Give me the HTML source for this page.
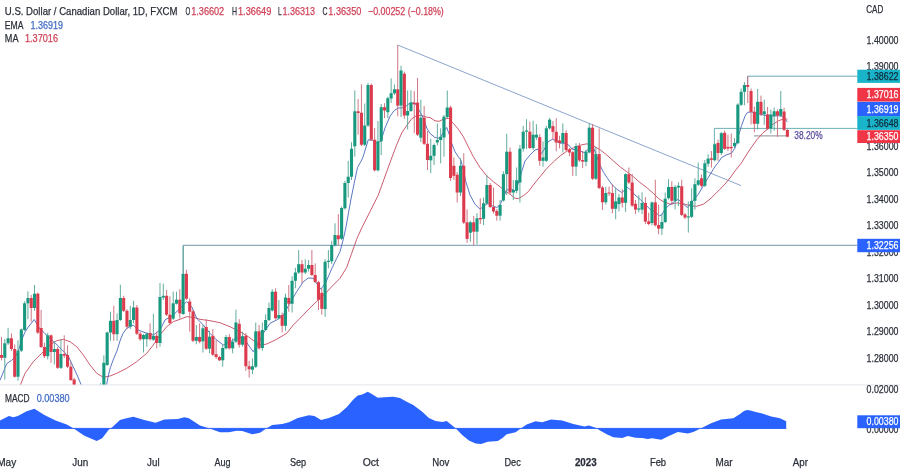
<!DOCTYPE html>
<html lang="en"><head><meta charset="utf-8"><title>USDCAD 1D</title>
<style>html,body{margin:0;padding:0;background:#fff;}body{width:900px;height:470px;overflow:hidden;position:relative;font-family:"Liberation Sans", Arial, sans-serif;}svg{position:absolute;left:0;top:0;display:block;will-change:transform;}text{font-family:"Liberation Sans", Arial, sans-serif;}</style>
</head><body>
<svg width="900" height="470" viewBox="0 0 900 470">
<defs><clipPath id="pane"><rect x="0" y="0" width="857" height="384.5"/></clipPath></defs>
<rect x="0" y="0" width="900" height="470" fill="#ffffff"/>
<line x1="0" y1="384.9" x2="900" y2="384.9" stroke="#e3e5ea" stroke-width="1"/>
<g fill="none" stroke-width="1">
<path d="M183.3 273.8 V245.3 H857.3" stroke="#4f7c9a" stroke-width="0.8"/>
<path d="M747.6 85 V76.2 H857.3" stroke="#3f9299" stroke-width="0.8"/>
<path d="M714.4 144 V128.4 H857.3" stroke="#4a9da3" stroke-width="0.8"/>
<path d="M397.7 45 L741 185.6" stroke="#6485ba" stroke-width="0.75"/>
<path d="M754 135.9 H786.2" stroke="#a3a5ad" stroke-width="1.4"/>
</g>
<g clip-path="url(#pane)">
<path d="M20.0 386.0 L25.0 373.3 L33.3 361.7 L41.7 353.3 L50.0 345.0 L56.7 340.7 L63.3 339.3 L70.0 341.7 L76.7 346.7 L83.3 355.0 L90.0 365.0 L96.7 373.3 L103.3 377.3 L110.0 376.0 L116.7 373.3 L126.7 368.3 L136.7 361.7 L146.7 353.3 L153.3 345.0 L160.0 335.0 L166.7 326.7 L173.3 321.7 L180.0 319.3 L186.7 316.7 L193.3 317.3 L200.0 319.3 L210.0 320.7 L220.0 322.7 L230.0 326.7 L240.0 331.7 L248.3 336.7 L255.0 341.7 L261.7 345.0 L266.7 344.0 L276.7 339.3 L286.7 333.3 L293.3 325.0 L300.0 318.3 L307.0 311.0 L315.0 303.0 L325.8 293.0 L331.7 286.7 L340.0 278.3 L346.7 267.5 L351.7 253.3 L356.7 239.2 L361.7 228.0 L370.0 211.7 L378.3 195.0 L386.7 171.7 L391.7 158.0 L396.7 144.7 L401.7 133.0 L406.7 125.5 L411.7 118.8 L416.7 115.5 L421.7 115.5 L426.7 117.2 L430.0 117.5 L435.0 120.8 L439.2 121.3 L443.3 119.2 L448.3 118.3 L453.3 123.3 L458.3 129.2 L463.3 136.7 L468.3 146.7 L473.3 156.7 L480.0 167.5 L486.7 175.8 L493.3 181.7 L500.0 186.7 L505.0 190.8 L510.0 194.2 L515.0 198.3 L518.3 198.7 L523.3 195.8 L528.3 191.7 L533.3 185.0 L538.3 178.8 L546.7 168.6 L553.4 161.9 L560.1 155.9 L566.8 151.2 L573.5 147.8 L580.2 145.2 L586.9 143.8 L593.6 146.0 L600.3 149.9 L607.0 155.2 L613.7 161.2 L620.4 167.0 L626.7 171.7 L633.3 176.7 L640.0 182.5 L646.7 187.5 L653.3 193.3 L658.3 198.3 L663.3 201.7 L670.0 204.2 L676.7 203.0 L683.3 203.7 L690.0 205.8 L696.7 206.3 L703.3 204.2 L710.0 199.2 L715.0 194.2 L720.0 189.2 L725.0 184.0 L730.0 178.0 L735.0 171.0 L741.6 162.7 L746.3 155.0 L751.7 146.9 L757.0 139.5 L762.4 133.5 L767.7 128.8 L773.1 124.1 L778.5 120.8 L783.8 118.8 L787.4 119.1 " fill="none" stroke="#c44a5d" stroke-width="0.95" stroke-opacity="0.95" stroke-linejoin="round"/>
<path d="M0.0 380.3 L6.7 363.7 L11.7 360.3 L15.0 357.0 L18.3 351.0 L21.7 340.0 L25.0 332.0 L28.3 327.0 L34.2 319.5 L39.2 327.8 L45.0 333.7 L53.3 341.2 L61.7 349.5 L68.3 356.2 L73.3 367.0 L77.5 376.0 L81.7 386.0 M106.4 386.0 L108.1 376.5 L110.3 367.7 L113.6 358.8 L116.9 351.1 L120.3 340.0 L123.0 333.5 L126.7 328.3 L133.3 325.0 L138.3 330.0 L145.0 332.7 L153.3 335.0 L160.0 330.0 L165.0 320.0 L173.3 315.0 L180.0 308.3 L186.7 301.7 L191.7 306.7 L196.7 318.3 L203.3 325.0 L210.0 333.3 L216.7 340.0 L223.3 345.0 L230.0 341.7 L236.7 338.3 L243.3 336.7 L248.3 345.0 L253.3 351.7 L258.3 343.3 L263.3 333.3 L270.0 323.3 L276.7 320.0 L283.3 315.0 L290.0 303.0 L296.7 291.7 L303.3 281.7 L308.3 278.0 L313.3 278.3 L318.3 285.8 L320.8 289.2 L325.8 282.5 L331.7 268.7 L336.7 258.3 L340.0 251.7 L343.3 239.2 L345.8 228.0 L350.8 200.0 L354.2 183.3 L357.5 167.5 L361.7 160.0 L363.3 156.0 L368.3 139.7 L372.5 140.5 L376.7 143.0 L380.8 141.3 L385.0 128.0 L390.0 116.3 L394.2 110.5 L398.3 108.0 L403.3 107.7 L406.7 105.5 L410.0 103.0 L415.0 103.0 L419.2 110.5 L423.3 118.0 L426.7 128.0 L430.0 133.5 L435.0 137.5 L440.0 138.3 L444.2 130.8 L446.7 127.5 L449.2 134.2 L451.7 143.3 L455.0 151.7 L458.3 156.7 L460.8 160.0 L463.3 169.2 L465.8 181.7 L470.0 195.0 L475.0 204.2 L480.0 209.2 L483.3 206.7 L487.5 203.3 L492.5 205.8 L496.7 207.5 L500.0 205.0 L503.3 197.5 L506.7 190.0 L511.7 189.2 L515.0 190.8 L518.3 183.3 L521.7 171.7 L525.0 161.0 L530.0 155.0 L535.0 150.0 L538.3 149.2 L540.0 155.2 L544.0 149.9 L548.0 141.8 L552.7 139.1 L556.1 141.1 L560.1 143.2 L565.5 143.4 L568.8 145.2 L572.2 149.2 L576.2 150.1 L580.2 151.2 L584.2 152.5 L586.9 150.5 L589.6 148.5 L593.0 146.5 L596.3 155.2 L600.3 165.9 L603.7 172.6 L607.5 178.3 L611.7 184.2 L616.7 189.2 L621.7 192.5 L625.0 190.0 L627.5 187.5 L630.8 190.0 L635.0 195.0 L640.0 199.2 L645.0 204.2 L650.0 209.2 L655.0 211.7 L659.2 215.8 L661.7 215.0 L665.0 209.2 L668.3 205.8 L673.3 202.5 L678.3 199.2 L683.3 204.2 L687.5 207.5 L690.8 203.3 L695.0 198.3 L698.3 194.2 L703.3 185.8 L708.3 177.5 L713.3 169.2 L716.7 164.2 L718.2 162.7 L721.5 157.6 L726.2 155.0 L731.6 153.0 L734.9 148.3 L738.3 136.2 L741.6 125.5 L745.0 116.1 L747.6 112.3 L751.7 112.0 L757.0 113.4 L765.0 115.4 L773.0 116.0 L781.0 115.8 L785.8 120.0 L787.4 122.0 " fill="none" stroke="#4868bc" stroke-width="0.95" stroke-opacity="0.95" stroke-linejoin="round"/>
<g stroke-width="0.95"><line x1="1.50" y1="337.0" x2="1.50" y2="360.3" stroke="#cc6f7c"/><line x1="4.80" y1="339.0" x2="4.80" y2="379.5" stroke="#5aa89a"/><line x1="8.10" y1="327.8" x2="8.10" y2="345.0" stroke="#5aa89a"/><line x1="11.41" y1="333.3" x2="11.41" y2="351.0" stroke="#cc6f7c"/><line x1="14.71" y1="344.5" x2="14.71" y2="377.5" stroke="#cc6f7c"/><line x1="18.01" y1="340.3" x2="18.01" y2="380.7" stroke="#5aa89a"/><line x1="21.31" y1="328.5" x2="21.31" y2="352.0" stroke="#5aa89a"/><line x1="24.61" y1="301.3" x2="24.61" y2="331.0" stroke="#5aa89a"/><line x1="27.92" y1="291.3" x2="27.92" y2="319.2" stroke="#5aa89a"/><line x1="31.22" y1="295.0" x2="31.22" y2="321.7" stroke="#cc6f7c"/><line x1="34.52" y1="285.0" x2="34.52" y2="310.8" stroke="#5aa89a"/><line x1="37.82" y1="292.5" x2="37.82" y2="334.0" stroke="#cc6f7c"/><line x1="41.12" y1="310.0" x2="41.12" y2="348.0" stroke="#cc6f7c"/><line x1="44.43" y1="342.8" x2="44.43" y2="358.0" stroke="#cc6f7c"/><line x1="47.73" y1="332.8" x2="47.73" y2="359.5" stroke="#5aa89a"/><line x1="51.03" y1="334.5" x2="51.03" y2="362.8" stroke="#cc6f7c"/><line x1="54.33" y1="341.2" x2="54.33" y2="364.5" stroke="#5aa89a"/><line x1="57.63" y1="347.0" x2="57.63" y2="369.0" stroke="#cc6f7c"/><line x1="60.94" y1="339.5" x2="60.94" y2="369.0" stroke="#5aa89a"/><line x1="64.24" y1="335.3" x2="64.24" y2="358.0" stroke="#cc6f7c"/><line x1="67.54" y1="345.3" x2="67.54" y2="368.0" stroke="#cc6f7c"/><line x1="70.84" y1="362.0" x2="70.84" y2="381.0" stroke="#cc6f7c"/><line x1="74.14" y1="377.8" x2="74.14" y2="394.0" stroke="#cc6f7c"/><line x1="77.45" y1="390.0" x2="77.45" y2="400.0" stroke="#cc6f7c"/><line x1="100.56" y1="383.3" x2="100.56" y2="398.0" stroke="#5aa89a"/><line x1="103.86" y1="355.3" x2="103.86" y2="395.0" stroke="#5aa89a"/><line x1="107.16" y1="331.7" x2="107.16" y2="366.0" stroke="#5aa89a"/><line x1="110.47" y1="311.7" x2="110.47" y2="340.8" stroke="#5aa89a"/><line x1="113.77" y1="305.8" x2="113.77" y2="340.8" stroke="#cc6f7c"/><line x1="117.07" y1="313.3" x2="117.07" y2="340.8" stroke="#5aa89a"/><line x1="120.37" y1="284.7" x2="120.37" y2="321.0" stroke="#5aa89a"/><line x1="123.67" y1="295.8" x2="123.67" y2="312.0" stroke="#cc6f7c"/><line x1="126.98" y1="309.2" x2="126.98" y2="329.2" stroke="#cc6f7c"/><line x1="130.28" y1="305.8" x2="130.28" y2="329.0" stroke="#5aa89a"/><line x1="133.58" y1="300.8" x2="133.58" y2="323.3" stroke="#5aa89a"/><line x1="136.88" y1="305.0" x2="136.88" y2="335.0" stroke="#cc6f7c"/><line x1="140.18" y1="331.7" x2="140.18" y2="340.8" stroke="#cc6f7c"/><line x1="143.49" y1="334.0" x2="143.49" y2="352.5" stroke="#5aa89a"/><line x1="146.79" y1="332.5" x2="146.79" y2="346.7" stroke="#5aa89a"/><line x1="150.09" y1="323.3" x2="150.09" y2="340.5" stroke="#cc6f7c"/><line x1="153.39" y1="313.8" x2="153.39" y2="341.0" stroke="#5aa89a"/><line x1="156.69" y1="331.7" x2="156.69" y2="348.3" stroke="#cc6f7c"/><line x1="160.00" y1="283.0" x2="160.00" y2="346.7" stroke="#5aa89a"/><line x1="163.30" y1="283.7" x2="163.30" y2="300.0" stroke="#5aa89a"/><line x1="166.60" y1="290.0" x2="166.60" y2="316.0" stroke="#cc6f7c"/><line x1="169.90" y1="296.3" x2="169.90" y2="324.0" stroke="#cc6f7c"/><line x1="173.20" y1="291.7" x2="173.20" y2="320.0" stroke="#5aa89a"/><line x1="176.51" y1="291.7" x2="176.51" y2="304.5" stroke="#5aa89a"/><line x1="179.81" y1="289.2" x2="179.81" y2="318.3" stroke="#cc6f7c"/><line x1="183.11" y1="245.5" x2="183.11" y2="315.0" stroke="#5aa89a"/><line x1="186.41" y1="269.7" x2="186.41" y2="300.0" stroke="#cc6f7c"/><line x1="189.71" y1="298.3" x2="189.71" y2="331.7" stroke="#cc6f7c"/><line x1="193.02" y1="310.0" x2="193.02" y2="342.0" stroke="#cc6f7c"/><line x1="196.32" y1="325.0" x2="196.32" y2="344.2" stroke="#5aa89a"/><line x1="199.62" y1="323.3" x2="199.62" y2="343.3" stroke="#cc6f7c"/><line x1="202.92" y1="325.0" x2="202.92" y2="352.5" stroke="#5aa89a"/><line x1="206.22" y1="319.2" x2="206.22" y2="350.0" stroke="#cc6f7c"/><line x1="209.53" y1="330.8" x2="209.53" y2="353.3" stroke="#5aa89a"/><line x1="212.83" y1="329.2" x2="212.83" y2="356.0" stroke="#cc6f7c"/><line x1="216.13" y1="340.0" x2="216.13" y2="359.0" stroke="#cc6f7c"/><line x1="219.43" y1="355.8" x2="219.43" y2="361.0" stroke="#cc6f7c"/><line x1="222.73" y1="344.2" x2="222.73" y2="366.7" stroke="#5aa89a"/><line x1="226.04" y1="335.0" x2="226.04" y2="349.5" stroke="#5aa89a"/><line x1="229.34" y1="334.2" x2="229.34" y2="349.5" stroke="#cc6f7c"/><line x1="232.64" y1="338.3" x2="232.64" y2="353.3" stroke="#5aa89a"/><line x1="235.94" y1="309.7" x2="235.94" y2="343.0" stroke="#5aa89a"/><line x1="239.24" y1="319.2" x2="239.24" y2="347.5" stroke="#cc6f7c"/><line x1="242.55" y1="331.7" x2="242.55" y2="346.7" stroke="#5aa89a"/><line x1="245.85" y1="333.3" x2="245.85" y2="370.8" stroke="#cc6f7c"/><line x1="249.15" y1="360.8" x2="249.15" y2="377.5" stroke="#cc6f7c"/><line x1="252.45" y1="358.3" x2="252.45" y2="374.2" stroke="#5aa89a"/><line x1="255.75" y1="322.5" x2="255.75" y2="368.0" stroke="#5aa89a"/><line x1="259.06" y1="325.0" x2="259.06" y2="349.5" stroke="#cc6f7c"/><line x1="262.36" y1="322.5" x2="262.36" y2="350.8" stroke="#5aa89a"/><line x1="265.66" y1="314.2" x2="265.66" y2="331.0" stroke="#5aa89a"/><line x1="268.96" y1="302.5" x2="268.96" y2="321.0" stroke="#5aa89a"/><line x1="272.26" y1="289.2" x2="272.26" y2="311.5" stroke="#5aa89a"/><line x1="275.57" y1="288.3" x2="275.57" y2="319.5" stroke="#cc6f7c"/><line x1="278.87" y1="300.0" x2="278.87" y2="319.5" stroke="#5aa89a"/><line x1="282.17" y1="312.5" x2="282.17" y2="332.5" stroke="#cc6f7c"/><line x1="285.47" y1="293.7" x2="285.47" y2="330.8" stroke="#5aa89a"/><line x1="288.77" y1="285.0" x2="288.77" y2="311.7" stroke="#cc6f7c"/><line x1="292.08" y1="276.3" x2="292.08" y2="312.5" stroke="#5aa89a"/><line x1="295.38" y1="267.8" x2="295.38" y2="288.3" stroke="#5aa89a"/><line x1="298.68" y1="250.0" x2="298.68" y2="274.0" stroke="#5aa89a"/><line x1="301.98" y1="260.0" x2="301.98" y2="283.3" stroke="#cc6f7c"/><line x1="305.28" y1="259.2" x2="305.28" y2="274.0" stroke="#5aa89a"/><line x1="308.59" y1="260.0" x2="308.59" y2="271.7" stroke="#5aa89a"/><line x1="311.89" y1="250.0" x2="311.89" y2="276.0" stroke="#cc6f7c"/><line x1="315.19" y1="263.3" x2="315.19" y2="283.0" stroke="#cc6f7c"/><line x1="318.49" y1="280.8" x2="318.49" y2="309.9" stroke="#cc6f7c"/><line x1="321.79" y1="288.3" x2="321.79" y2="314.7" stroke="#cc6f7c"/><line x1="325.10" y1="259.2" x2="325.10" y2="316.8" stroke="#5aa89a"/><line x1="328.40" y1="250.0" x2="328.40" y2="268.3" stroke="#5aa89a"/><line x1="331.70" y1="240.8" x2="331.70" y2="264.2" stroke="#5aa89a"/><line x1="335.00" y1="223.3" x2="335.00" y2="246.5" stroke="#5aa89a"/><line x1="338.30" y1="214.2" x2="338.30" y2="245.0" stroke="#cc6f7c"/><line x1="341.61" y1="206.5" x2="341.61" y2="240.0" stroke="#5aa89a"/><line x1="344.91" y1="180.8" x2="344.91" y2="209.5" stroke="#5aa89a"/><line x1="348.21" y1="160.8" x2="348.21" y2="197.5" stroke="#5aa89a"/><line x1="351.51" y1="142.2" x2="351.51" y2="180.0" stroke="#5aa89a"/><line x1="354.81" y1="90.4" x2="354.81" y2="156.7" stroke="#5aa89a"/><line x1="358.12" y1="99.0" x2="358.12" y2="134.7" stroke="#cc6f7c"/><line x1="361.42" y1="84.3" x2="361.42" y2="146.0" stroke="#cc6f7c"/><line x1="364.72" y1="103.5" x2="364.72" y2="146.0" stroke="#5aa89a"/><line x1="368.02" y1="82.8" x2="368.02" y2="127.0" stroke="#5aa89a"/><line x1="371.32" y1="83.5" x2="371.32" y2="141.0" stroke="#cc6f7c"/><line x1="374.63" y1="128.0" x2="374.63" y2="171.5" stroke="#cc6f7c"/><line x1="377.93" y1="121.0" x2="377.93" y2="171.5" stroke="#5aa89a"/><line x1="381.23" y1="104.0" x2="381.23" y2="155.0" stroke="#5aa89a"/><line x1="384.53" y1="103.2" x2="384.53" y2="118.0" stroke="#cc6f7c"/><line x1="387.83" y1="96.7" x2="387.83" y2="118.0" stroke="#5aa89a"/><line x1="391.14" y1="78.3" x2="391.14" y2="103.0" stroke="#5aa89a"/><line x1="394.44" y1="84.4" x2="394.44" y2="95.0" stroke="#5aa89a"/><line x1="397.74" y1="45.0" x2="397.74" y2="116.3" stroke="#cc6f7c"/><line x1="401.04" y1="65.8" x2="401.04" y2="117.0" stroke="#5aa89a"/><line x1="404.34" y1="71.7" x2="404.34" y2="118.8" stroke="#cc6f7c"/><line x1="407.65" y1="90.4" x2="407.65" y2="129.7" stroke="#5aa89a"/><line x1="410.95" y1="90.2" x2="410.95" y2="112.0" stroke="#5aa89a"/><line x1="414.25" y1="91.0" x2="414.25" y2="133.0" stroke="#cc6f7c"/><line x1="417.55" y1="78.0" x2="417.55" y2="136.0" stroke="#cc6f7c"/><line x1="420.85" y1="99.7" x2="420.85" y2="142.2" stroke="#5aa89a"/><line x1="424.16" y1="106.0" x2="424.16" y2="145.0" stroke="#cc6f7c"/><line x1="427.46" y1="131.0" x2="427.46" y2="170.0" stroke="#cc6f7c"/><line x1="430.76" y1="138.8" x2="430.76" y2="173.3" stroke="#5aa89a"/><line x1="434.06" y1="143.5" x2="434.06" y2="165.0" stroke="#5aa89a"/><line x1="437.36" y1="123.5" x2="437.36" y2="145.3" stroke="#5aa89a"/><line x1="440.67" y1="128.3" x2="440.67" y2="163.3" stroke="#5aa89a"/><line x1="443.97" y1="115.0" x2="443.97" y2="156.7" stroke="#5aa89a"/><line x1="447.27" y1="90.5" x2="447.27" y2="118.0" stroke="#5aa89a"/><line x1="450.57" y1="105.8" x2="450.57" y2="180.8" stroke="#cc6f7c"/><line x1="453.87" y1="157.5" x2="453.87" y2="180.0" stroke="#cc6f7c"/><line x1="457.18" y1="172.0" x2="457.18" y2="202.5" stroke="#cc6f7c"/><line x1="460.48" y1="158.3" x2="460.48" y2="196.0" stroke="#5aa89a"/><line x1="463.78" y1="153.3" x2="463.78" y2="224.0" stroke="#cc6f7c"/><line x1="467.08" y1="209.3" x2="467.08" y2="242.8" stroke="#cc6f7c"/><line x1="470.38" y1="220.8" x2="470.38" y2="241.7" stroke="#5aa89a"/><line x1="473.69" y1="216.0" x2="473.69" y2="245.3" stroke="#cc6f7c"/><line x1="476.99" y1="213.2" x2="476.99" y2="244.4" stroke="#5aa89a"/><line x1="480.29" y1="198.3" x2="480.29" y2="224.0" stroke="#cc6f7c"/><line x1="483.59" y1="197.5" x2="483.59" y2="225.0" stroke="#5aa89a"/><line x1="486.89" y1="175.0" x2="486.89" y2="205.0" stroke="#5aa89a"/><line x1="490.20" y1="183.0" x2="490.20" y2="208.0" stroke="#cc6f7c"/><line x1="493.50" y1="187.5" x2="493.50" y2="213.5" stroke="#cc6f7c"/><line x1="496.80" y1="209.0" x2="496.80" y2="220.7" stroke="#cc6f7c"/><line x1="500.10" y1="200.0" x2="500.10" y2="220.7" stroke="#5aa89a"/><line x1="503.40" y1="171.3" x2="503.40" y2="201.5" stroke="#5aa89a"/><line x1="506.71" y1="133.7" x2="506.71" y2="195.0" stroke="#5aa89a"/><line x1="510.01" y1="147.5" x2="510.01" y2="194.2" stroke="#cc6f7c"/><line x1="513.31" y1="180.0" x2="513.31" y2="200.0" stroke="#5aa89a"/><line x1="516.61" y1="167.5" x2="516.61" y2="193.3" stroke="#5aa89a"/><line x1="519.91" y1="145.0" x2="519.91" y2="202.5" stroke="#5aa89a"/><line x1="523.22" y1="125.8" x2="523.22" y2="151.7" stroke="#5aa89a"/><line x1="526.52" y1="119.2" x2="526.52" y2="149.0" stroke="#5aa89a"/><line x1="529.82" y1="121.7" x2="529.82" y2="149.0" stroke="#cc6f7c"/><line x1="533.12" y1="120.8" x2="533.12" y2="150.0" stroke="#5aa89a"/><line x1="536.42" y1="124.2" x2="536.42" y2="140.0" stroke="#5aa89a"/><line x1="539.73" y1="134.2" x2="539.73" y2="165.8" stroke="#cc6f7c"/><line x1="543.03" y1="141.5" x2="543.03" y2="166.7" stroke="#5aa89a"/><line x1="546.33" y1="126.0" x2="546.33" y2="162.0" stroke="#5aa89a"/><line x1="549.63" y1="118.0" x2="549.63" y2="129.5" stroke="#5aa89a"/><line x1="552.93" y1="121.0" x2="552.93" y2="139.8" stroke="#cc6f7c"/><line x1="556.24" y1="118.2" x2="556.24" y2="151.3" stroke="#cc6f7c"/><line x1="559.54" y1="135.8" x2="559.54" y2="148.4" stroke="#cc6f7c"/><line x1="562.84" y1="123.3" x2="562.84" y2="152.5" stroke="#5aa89a"/><line x1="566.14" y1="130.2" x2="566.14" y2="151.0" stroke="#cc6f7c"/><line x1="569.44" y1="148.0" x2="569.44" y2="156.0" stroke="#cc6f7c"/><line x1="572.75" y1="151.0" x2="572.75" y2="175.9" stroke="#cc6f7c"/><line x1="576.05" y1="143.2" x2="576.05" y2="175.9" stroke="#5aa89a"/><line x1="579.35" y1="143.0" x2="579.35" y2="162.0" stroke="#cc6f7c"/><line x1="582.65" y1="151.0" x2="582.65" y2="168.0" stroke="#cc6f7c"/><line x1="585.95" y1="149.9" x2="585.95" y2="166.2" stroke="#5aa89a"/><line x1="589.26" y1="123.0" x2="589.26" y2="153.5" stroke="#5aa89a"/><line x1="592.56" y1="124.0" x2="592.56" y2="180.0" stroke="#cc6f7c"/><line x1="595.86" y1="147.0" x2="595.86" y2="180.0" stroke="#5aa89a"/><line x1="599.16" y1="128.4" x2="599.16" y2="189.2" stroke="#cc6f7c"/><line x1="602.46" y1="186.0" x2="602.46" y2="210.0" stroke="#cc6f7c"/><line x1="605.77" y1="186.7" x2="605.77" y2="204.7" stroke="#5aa89a"/><line x1="609.07" y1="186.7" x2="609.07" y2="196.0" stroke="#cc6f7c"/><line x1="612.37" y1="184.2" x2="612.37" y2="213.4" stroke="#cc6f7c"/><line x1="615.67" y1="187.5" x2="615.67" y2="219.2" stroke="#5aa89a"/><line x1="618.97" y1="194.0" x2="618.97" y2="211.5" stroke="#5aa89a"/><line x1="622.28" y1="189.2" x2="622.28" y2="207.4" stroke="#cc6f7c"/><line x1="625.58" y1="173.3" x2="625.58" y2="211.8" stroke="#5aa89a"/><line x1="628.88" y1="167.5" x2="628.88" y2="184.0" stroke="#cc6f7c"/><line x1="632.18" y1="174.0" x2="632.18" y2="207.0" stroke="#cc6f7c"/><line x1="635.48" y1="200.0" x2="635.48" y2="214.0" stroke="#cc6f7c"/><line x1="638.79" y1="195.2" x2="638.79" y2="212.3" stroke="#5aa89a"/><line x1="642.09" y1="192.3" x2="642.09" y2="214.1" stroke="#5aa89a"/><line x1="645.39" y1="197.0" x2="645.39" y2="224.2" stroke="#cc6f7c"/><line x1="648.69" y1="212.7" x2="648.69" y2="225.3" stroke="#cc6f7c"/><line x1="651.99" y1="201.7" x2="651.99" y2="225.2" stroke="#5aa89a"/><line x1="655.30" y1="179.7" x2="655.30" y2="226.5" stroke="#cc6f7c"/><line x1="658.60" y1="204.7" x2="658.60" y2="234.2" stroke="#cc6f7c"/><line x1="661.90" y1="213.4" x2="661.90" y2="235.0" stroke="#5aa89a"/><line x1="665.20" y1="192.5" x2="665.20" y2="223.0" stroke="#5aa89a"/><line x1="668.50" y1="179.2" x2="668.50" y2="199.5" stroke="#5aa89a"/><line x1="671.81" y1="181.3" x2="671.81" y2="205.0" stroke="#cc6f7c"/><line x1="675.11" y1="185.0" x2="675.11" y2="209.3" stroke="#5aa89a"/><line x1="678.41" y1="182.5" x2="678.41" y2="206.0" stroke="#5aa89a"/><line x1="681.71" y1="179.7" x2="681.71" y2="216.0" stroke="#cc6f7c"/><line x1="685.01" y1="213.0" x2="685.01" y2="219.0" stroke="#cc6f7c"/><line x1="688.32" y1="201.5" x2="688.32" y2="232.6" stroke="#5aa89a"/><line x1="691.62" y1="188.3" x2="691.62" y2="218.0" stroke="#5aa89a"/><line x1="694.92" y1="178.3" x2="694.92" y2="209.6" stroke="#5aa89a"/><line x1="698.22" y1="162.5" x2="698.22" y2="186.0" stroke="#5aa89a"/><line x1="701.52" y1="174.7" x2="701.52" y2="187.5" stroke="#cc6f7c"/><line x1="704.83" y1="160.0" x2="704.83" y2="187.0" stroke="#5aa89a"/><line x1="708.13" y1="154.2" x2="708.13" y2="166.7" stroke="#5aa89a"/><line x1="711.43" y1="151.0" x2="711.43" y2="167.5" stroke="#cc6f7c"/><line x1="714.73" y1="143.0" x2="714.73" y2="161.5" stroke="#5aa89a"/><line x1="718.03" y1="139.5" x2="718.03" y2="160.8" stroke="#cc6f7c"/><line x1="721.34" y1="132.0" x2="721.34" y2="155.0" stroke="#5aa89a"/><line x1="724.64" y1="130.6" x2="724.64" y2="150.0" stroke="#cc6f7c"/><line x1="727.94" y1="134.6" x2="727.94" y2="150.9" stroke="#cc6f7c"/><line x1="731.24" y1="133.5" x2="731.24" y2="157.6" stroke="#cc6f7c"/><line x1="734.54" y1="138.2" x2="734.54" y2="148.3" stroke="#5aa89a"/><line x1="737.85" y1="103.2" x2="737.85" y2="144.2" stroke="#5aa89a"/><line x1="741.15" y1="88.5" x2="741.15" y2="106.0" stroke="#5aa89a"/><line x1="744.45" y1="82.2" x2="744.45" y2="105.3" stroke="#5aa89a"/><line x1="747.75" y1="76.1" x2="747.75" y2="103.0" stroke="#cc6f7c"/><line x1="751.05" y1="88.5" x2="751.05" y2="124.4" stroke="#cc6f7c"/><line x1="754.36" y1="106.6" x2="754.36" y2="132.2" stroke="#cc6f7c"/><line x1="757.66" y1="89.0" x2="757.66" y2="129.5" stroke="#5aa89a"/><line x1="760.96" y1="95.6" x2="760.96" y2="116.0" stroke="#cc6f7c"/><line x1="764.26" y1="99.6" x2="764.26" y2="124.8" stroke="#5aa89a"/><line x1="767.56" y1="107.0" x2="767.56" y2="130.0" stroke="#cc6f7c"/><line x1="770.87" y1="109.6" x2="770.87" y2="133.5" stroke="#5aa89a"/><line x1="774.17" y1="107.5" x2="774.17" y2="130.8" stroke="#5aa89a"/><line x1="777.47" y1="109.5" x2="777.47" y2="136.9" stroke="#cc6f7c"/><line x1="780.77" y1="91.0" x2="780.77" y2="117.0" stroke="#5aa89a"/><line x1="784.07" y1="107.7" x2="784.07" y2="131.0" stroke="#cc6f7c"/><line x1="787.38" y1="128.8" x2="787.38" y2="137.3" stroke="#cc6f7c"/></g>
<g><rect x="-0.05" y="355.0" width="3.1" height="2.8" fill="#dc3b4e"/><rect x="3.25" y="343.3" width="3.1" height="14.5" fill="#17987f"/><rect x="6.55" y="338.3" width="3.1" height="5.0" fill="#17987f"/><rect x="9.86" y="338.3" width="3.1" height="10.7" fill="#dc3b4e"/><rect x="13.16" y="349.0" width="3.1" height="27.7" fill="#dc3b4e"/><rect x="16.46" y="350.7" width="3.1" height="26.0" fill="#17987f"/><rect x="19.76" y="329.5" width="3.1" height="21.2" fill="#17987f"/><rect x="23.06" y="303.3" width="3.1" height="26.7" fill="#17987f"/><rect x="26.37" y="298.0" width="3.1" height="5.3" fill="#17987f"/><rect x="29.67" y="298.0" width="3.1" height="10.0" fill="#dc3b4e"/><rect x="32.97" y="293.7" width="3.1" height="14.3" fill="#17987f"/><rect x="36.27" y="293.7" width="3.1" height="38.9" fill="#dc3b4e"/><rect x="39.57" y="328.0" width="3.1" height="19.0" fill="#dc3b4e"/><rect x="42.88" y="347.0" width="3.1" height="9.2" fill="#dc3b4e"/><rect x="46.18" y="335.3" width="3.1" height="20.9" fill="#17987f"/><rect x="49.48" y="335.3" width="3.1" height="16.7" fill="#dc3b4e"/><rect x="52.78" y="349.0" width="3.1" height="3.0" fill="#17987f"/><rect x="56.08" y="349.0" width="3.1" height="18.8" fill="#dc3b4e"/><rect x="59.39" y="354.0" width="3.1" height="13.8" fill="#17987f"/><rect x="62.69" y="354.0" width="3.1" height="1.7" fill="#dc3b4e"/><rect x="65.99" y="355.0" width="3.1" height="11.7" fill="#dc3b4e"/><rect x="69.29" y="366.7" width="3.1" height="13.3" fill="#dc3b4e"/><rect x="72.59" y="379.5" width="3.1" height="12.5" fill="#dc3b4e"/><rect x="75.90" y="392.0" width="3.1" height="6.0" fill="#dc3b4e"/><rect x="99.01" y="388.0" width="3.1" height="8.0" fill="#17987f"/><rect x="102.31" y="362.8" width="3.1" height="29.2" fill="#17987f"/><rect x="105.61" y="332.5" width="3.1" height="32.5" fill="#17987f"/><rect x="108.92" y="320.8" width="3.1" height="11.7" fill="#17987f"/><rect x="112.22" y="320.8" width="3.1" height="13.4" fill="#dc3b4e"/><rect x="115.52" y="320.0" width="3.1" height="14.2" fill="#17987f"/><rect x="118.82" y="298.0" width="3.1" height="22.0" fill="#17987f"/><rect x="122.12" y="298.0" width="3.1" height="12.8" fill="#dc3b4e"/><rect x="125.43" y="310.8" width="3.1" height="15.9" fill="#dc3b4e"/><rect x="128.73" y="320.0" width="3.1" height="6.7" fill="#17987f"/><rect x="132.03" y="307.5" width="3.1" height="12.5" fill="#17987f"/><rect x="135.33" y="307.5" width="3.1" height="26.2" fill="#dc3b4e"/><rect x="138.63" y="333.7" width="3.1" height="5.5" fill="#dc3b4e"/><rect x="141.94" y="335.0" width="3.1" height="4.2" fill="#17987f"/><rect x="145.24" y="333.7" width="3.1" height="5.5" fill="#17987f"/><rect x="148.54" y="333.0" width="3.1" height="6.2" fill="#dc3b4e"/><rect x="151.84" y="335.8" width="3.1" height="3.9" fill="#17987f"/><rect x="155.14" y="335.8" width="3.1" height="7.2" fill="#dc3b4e"/><rect x="158.45" y="297.0" width="3.1" height="46.0" fill="#17987f"/><rect x="161.75" y="295.8" width="3.1" height="1.7" fill="#17987f"/><rect x="165.05" y="295.8" width="3.1" height="18.9" fill="#dc3b4e"/><rect x="168.35" y="314.7" width="3.1" height="8.3" fill="#dc3b4e"/><rect x="171.65" y="303.3" width="3.1" height="15.4" fill="#17987f"/><rect x="174.96" y="299.7" width="3.1" height="4.0" fill="#17987f"/><rect x="178.26" y="299.7" width="3.1" height="13.6" fill="#dc3b4e"/><rect x="181.56" y="273.8" width="3.1" height="40.2" fill="#17987f"/><rect x="184.86" y="273.8" width="3.1" height="24.9" fill="#dc3b4e"/><rect x="188.16" y="301.5" width="3.1" height="10.2" fill="#dc3b4e"/><rect x="191.47" y="311.3" width="3.1" height="29.5" fill="#dc3b4e"/><rect x="194.77" y="337.0" width="3.1" height="3.8" fill="#17987f"/><rect x="198.07" y="337.0" width="3.1" height="4.7" fill="#dc3b4e"/><rect x="201.37" y="328.3" width="3.1" height="13.0" fill="#17987f"/><rect x="204.67" y="327.0" width="3.1" height="21.7" fill="#dc3b4e"/><rect x="207.98" y="336.7" width="3.1" height="12.0" fill="#17987f"/><rect x="211.28" y="335.8" width="3.1" height="18.9" fill="#dc3b4e"/><rect x="214.58" y="354.2" width="3.1" height="2.8" fill="#dc3b4e"/><rect x="217.88" y="357.0" width="3.1" height="3.3" fill="#dc3b4e"/><rect x="221.18" y="348.0" width="3.1" height="12.3" fill="#17987f"/><rect x="224.49" y="337.0" width="3.1" height="11.3" fill="#17987f"/><rect x="227.79" y="337.0" width="3.1" height="11.3" fill="#dc3b4e"/><rect x="231.09" y="341.7" width="3.1" height="6.6" fill="#17987f"/><rect x="234.39" y="322.5" width="3.1" height="19.2" fill="#17987f"/><rect x="237.69" y="323.8" width="3.1" height="20.9" fill="#dc3b4e"/><rect x="241.00" y="336.3" width="3.1" height="8.4" fill="#17987f"/><rect x="244.30" y="335.8" width="3.1" height="30.5" fill="#dc3b4e"/><rect x="247.60" y="366.3" width="3.1" height="2.9" fill="#dc3b4e"/><rect x="250.90" y="366.3" width="3.1" height="3.4" fill="#17987f"/><rect x="254.20" y="331.3" width="3.1" height="35.4" fill="#17987f"/><rect x="257.51" y="331.3" width="3.1" height="17.0" fill="#dc3b4e"/><rect x="260.81" y="330.0" width="3.1" height="18.0" fill="#17987f"/><rect x="264.11" y="320.0" width="3.1" height="10.0" fill="#17987f"/><rect x="267.41" y="308.0" width="3.1" height="12.0" fill="#17987f"/><rect x="270.71" y="291.7" width="3.1" height="18.8" fill="#17987f"/><rect x="274.02" y="291.7" width="3.1" height="26.6" fill="#dc3b4e"/><rect x="277.32" y="315.0" width="3.1" height="3.3" fill="#17987f"/><rect x="280.62" y="315.0" width="3.1" height="10.8" fill="#dc3b4e"/><rect x="283.92" y="297.5" width="3.1" height="28.3" fill="#17987f"/><rect x="287.22" y="298.0" width="3.1" height="5.7" fill="#dc3b4e"/><rect x="290.53" y="280.8" width="3.1" height="23.0" fill="#17987f"/><rect x="293.83" y="272.5" width="3.1" height="8.3" fill="#17987f"/><rect x="297.13" y="264.2" width="3.1" height="8.3" fill="#17987f"/><rect x="300.43" y="264.2" width="3.1" height="8.3" fill="#dc3b4e"/><rect x="303.73" y="268.7" width="3.1" height="3.8" fill="#17987f"/><rect x="307.04" y="265.0" width="3.1" height="3.7" fill="#17987f"/><rect x="310.34" y="265.0" width="3.1" height="10.0" fill="#dc3b4e"/><rect x="313.64" y="275.0" width="3.1" height="7.0" fill="#dc3b4e"/><rect x="316.94" y="282.2" width="3.1" height="17.6" fill="#dc3b4e"/><rect x="320.24" y="292.9" width="3.1" height="15.9" fill="#dc3b4e"/><rect x="323.55" y="261.7" width="3.1" height="47.4" fill="#17987f"/><rect x="326.85" y="260.8" width="3.1" height="1.2" fill="#17987f"/><rect x="330.15" y="245.0" width="3.1" height="16.3" fill="#17987f"/><rect x="333.45" y="235.0" width="3.1" height="10.3" fill="#17987f"/><rect x="336.75" y="235.3" width="3.1" height="3.9" fill="#dc3b4e"/><rect x="340.06" y="208.0" width="3.1" height="30.7" fill="#17987f"/><rect x="343.36" y="183.0" width="3.1" height="25.3" fill="#17987f"/><rect x="346.66" y="176.7" width="3.1" height="6.3" fill="#17987f"/><rect x="349.96" y="148.8" width="3.1" height="27.9" fill="#17987f"/><rect x="353.26" y="111.3" width="3.1" height="35.0" fill="#17987f"/><rect x="356.57" y="111.3" width="3.1" height="1.7" fill="#dc3b4e"/><rect x="359.87" y="112.7" width="3.1" height="32.0" fill="#dc3b4e"/><rect x="363.17" y="125.5" width="3.1" height="19.2" fill="#17987f"/><rect x="366.47" y="85.0" width="3.1" height="40.5" fill="#17987f"/><rect x="369.77" y="85.0" width="3.1" height="54.7" fill="#dc3b4e"/><rect x="373.08" y="139.7" width="3.1" height="30.6" fill="#dc3b4e"/><rect x="376.38" y="141.3" width="3.1" height="29.0" fill="#17987f"/><rect x="379.68" y="107.2" width="3.1" height="34.1" fill="#17987f"/><rect x="382.98" y="107.2" width="3.1" height="3.3" fill="#dc3b4e"/><rect x="386.28" y="98.2" width="3.1" height="14.0" fill="#17987f"/><rect x="389.59" y="93.2" width="3.1" height="5.3" fill="#17987f"/><rect x="392.89" y="89.3" width="3.1" height="4.0" fill="#17987f"/><rect x="396.19" y="89.3" width="3.1" height="16.3" fill="#dc3b4e"/><rect x="399.49" y="70.5" width="3.1" height="35.1" fill="#17987f"/><rect x="402.79" y="73.7" width="3.1" height="41.8" fill="#dc3b4e"/><rect x="406.10" y="111.0" width="3.1" height="4.5" fill="#17987f"/><rect x="409.40" y="102.6" width="3.1" height="8.4" fill="#17987f"/><rect x="412.70" y="102.7" width="3.1" height="1.6" fill="#dc3b4e"/><rect x="416.00" y="102.6" width="3.1" height="32.1" fill="#dc3b4e"/><rect x="419.30" y="117.7" width="3.1" height="20.0" fill="#17987f"/><rect x="422.61" y="117.7" width="3.1" height="26.1" fill="#dc3b4e"/><rect x="425.91" y="143.8" width="3.1" height="16.2" fill="#dc3b4e"/><rect x="429.21" y="155.8" width="3.1" height="4.5" fill="#17987f"/><rect x="432.51" y="145.0" width="3.1" height="10.8" fill="#17987f"/><rect x="435.81" y="140.0" width="3.1" height="2.5" fill="#17987f"/><rect x="439.12" y="136.7" width="3.1" height="3.3" fill="#17987f"/><rect x="442.42" y="116.7" width="3.1" height="20.8" fill="#17987f"/><rect x="445.72" y="107.5" width="3.1" height="9.5" fill="#17987f"/><rect x="449.02" y="107.5" width="3.1" height="70.5" fill="#dc3b4e"/><rect x="452.32" y="165.8" width="3.1" height="10.0" fill="#dc3b4e"/><rect x="455.63" y="174.7" width="3.1" height="17.8" fill="#dc3b4e"/><rect x="458.93" y="165.8" width="3.1" height="26.7" fill="#17987f"/><rect x="462.23" y="165.8" width="3.1" height="56.8" fill="#dc3b4e"/><rect x="465.53" y="222.3" width="3.1" height="16.6" fill="#dc3b4e"/><rect x="468.83" y="222.3" width="3.1" height="10.4" fill="#17987f"/><rect x="472.14" y="222.3" width="3.1" height="9.4" fill="#dc3b4e"/><rect x="475.44" y="218.3" width="3.1" height="13.4" fill="#17987f"/><rect x="478.74" y="218.0" width="3.1" height="1.4" fill="#dc3b4e"/><rect x="482.04" y="203.3" width="3.1" height="15.5" fill="#17987f"/><rect x="485.34" y="185.0" width="3.1" height="18.5" fill="#17987f"/><rect x="488.65" y="185.0" width="3.1" height="22.0" fill="#dc3b4e"/><rect x="491.95" y="207.0" width="3.1" height="4.4" fill="#dc3b4e"/><rect x="495.25" y="211.0" width="3.1" height="4.7" fill="#dc3b4e"/><rect x="498.55" y="205.0" width="3.1" height="10.7" fill="#17987f"/><rect x="501.85" y="174.2" width="3.1" height="26.3" fill="#17987f"/><rect x="505.16" y="151.7" width="3.1" height="22.5" fill="#17987f"/><rect x="508.46" y="151.7" width="3.1" height="40.8" fill="#dc3b4e"/><rect x="511.76" y="190.0" width="3.1" height="2.5" fill="#17987f"/><rect x="515.06" y="180.3" width="3.1" height="10.5" fill="#17987f"/><rect x="518.36" y="148.7" width="3.1" height="33.8" fill="#17987f"/><rect x="521.67" y="131.7" width="3.1" height="17.0" fill="#17987f"/><rect x="524.97" y="130.5" width="3.1" height="1.2" fill="#17987f"/><rect x="528.27" y="131.7" width="3.1" height="16.3" fill="#dc3b4e"/><rect x="531.57" y="134.7" width="3.1" height="13.3" fill="#17987f"/><rect x="534.87" y="134.7" width="3.1" height="2.8" fill="#17987f"/><rect x="538.18" y="137.2" width="3.1" height="23.6" fill="#dc3b4e"/><rect x="541.48" y="157.5" width="3.1" height="3.3" fill="#17987f"/><rect x="544.78" y="128.3" width="3.1" height="32.5" fill="#17987f"/><rect x="548.08" y="119.7" width="3.1" height="8.6" fill="#17987f"/><rect x="551.38" y="126.1" width="3.1" height="5.7" fill="#dc3b4e"/><rect x="554.69" y="131.8" width="3.1" height="10.7" fill="#dc3b4e"/><rect x="557.99" y="140.5" width="3.1" height="2.5" fill="#dc3b4e"/><rect x="561.29" y="133.0" width="3.1" height="10.0" fill="#17987f"/><rect x="564.59" y="133.0" width="3.1" height="17.0" fill="#dc3b4e"/><rect x="567.89" y="149.4" width="3.1" height="3.1" fill="#dc3b4e"/><rect x="571.20" y="152.2" width="3.1" height="14.4" fill="#dc3b4e"/><rect x="574.50" y="146.0" width="3.1" height="20.6" fill="#17987f"/><rect x="577.80" y="146.0" width="3.1" height="14.4" fill="#dc3b4e"/><rect x="581.10" y="160.0" width="3.1" height="1.6" fill="#dc3b4e"/><rect x="584.40" y="151.8" width="3.1" height="10.0" fill="#17987f"/><rect x="587.71" y="127.7" width="3.1" height="24.8" fill="#17987f"/><rect x="591.01" y="127.7" width="3.1" height="51.0" fill="#dc3b4e"/><rect x="594.31" y="154.1" width="3.1" height="24.6" fill="#17987f"/><rect x="597.61" y="154.1" width="3.1" height="33.9" fill="#dc3b4e"/><rect x="600.91" y="187.5" width="3.1" height="14.8" fill="#dc3b4e"/><rect x="604.22" y="193.0" width="3.1" height="9.3" fill="#17987f"/><rect x="607.52" y="192.5" width="3.1" height="1.0" fill="#dc3b4e"/><rect x="610.82" y="193.0" width="3.1" height="15.8" fill="#dc3b4e"/><rect x="614.12" y="201.4" width="3.1" height="7.4" fill="#17987f"/><rect x="617.42" y="197.5" width="3.1" height="6.6" fill="#17987f"/><rect x="620.73" y="197.5" width="3.1" height="5.3" fill="#dc3b4e"/><rect x="624.03" y="174.2" width="3.1" height="28.6" fill="#17987f"/><rect x="627.33" y="174.2" width="3.1" height="8.3" fill="#dc3b4e"/><rect x="630.63" y="182.5" width="3.1" height="23.1" fill="#dc3b4e"/><rect x="633.93" y="203.8" width="3.1" height="5.8" fill="#dc3b4e"/><rect x="637.24" y="208.4" width="3.1" height="1.2" fill="#17987f"/><rect x="640.54" y="203.0" width="3.1" height="6.6" fill="#17987f"/><rect x="643.84" y="203.0" width="3.1" height="18.6" fill="#dc3b4e"/><rect x="647.14" y="221.3" width="3.1" height="2.7" fill="#dc3b4e"/><rect x="650.44" y="202.4" width="3.1" height="20.6" fill="#17987f"/><rect x="653.75" y="202.4" width="3.1" height="22.9" fill="#dc3b4e"/><rect x="657.05" y="225.0" width="3.1" height="3.6" fill="#dc3b4e"/><rect x="660.35" y="222.0" width="3.1" height="6.6" fill="#17987f"/><rect x="663.65" y="198.7" width="3.1" height="23.3" fill="#17987f"/><rect x="666.95" y="187.0" width="3.1" height="11.2" fill="#17987f"/><rect x="670.26" y="187.0" width="3.1" height="13.8" fill="#dc3b4e"/><rect x="673.56" y="187.0" width="3.1" height="13.8" fill="#17987f"/><rect x="676.86" y="185.8" width="3.1" height="1.7" fill="#17987f"/><rect x="680.16" y="186.3" width="3.1" height="28.6" fill="#dc3b4e"/><rect x="683.46" y="214.5" width="3.1" height="3.0" fill="#dc3b4e"/><rect x="686.77" y="216.4" width="3.1" height="1.1" fill="#17987f"/><rect x="690.07" y="200.9" width="3.1" height="15.9" fill="#17987f"/><rect x="693.37" y="184.2" width="3.1" height="16.6" fill="#17987f"/><rect x="696.67" y="180.3" width="3.1" height="4.4" fill="#17987f"/><rect x="699.97" y="178.3" width="3.1" height="7.5" fill="#dc3b4e"/><rect x="703.28" y="163.3" width="3.1" height="22.5" fill="#17987f"/><rect x="706.58" y="158.6" width="3.1" height="5.1" fill="#17987f"/><rect x="709.88" y="158.3" width="3.1" height="1.5" fill="#dc3b4e"/><rect x="713.18" y="144.2" width="3.1" height="16.0" fill="#17987f"/><rect x="716.48" y="142.9" width="3.1" height="10.1" fill="#dc3b4e"/><rect x="719.79" y="133.2" width="3.1" height="19.8" fill="#17987f"/><rect x="723.09" y="132.8" width="3.1" height="16.1" fill="#dc3b4e"/><rect x="726.39" y="146.9" width="3.1" height="1.6" fill="#dc3b4e"/><rect x="729.69" y="146.9" width="3.1" height="1.4" fill="#dc3b4e"/><rect x="732.99" y="142.9" width="3.1" height="3.3" fill="#17987f"/><rect x="736.30" y="104.6" width="3.1" height="38.6" fill="#17987f"/><rect x="739.60" y="91.8" width="3.1" height="13.0" fill="#17987f"/><rect x="742.90" y="85.0" width="3.1" height="6.8" fill="#17987f"/><rect x="746.20" y="85.0" width="3.1" height="1.9" fill="#dc3b4e"/><rect x="749.50" y="91.0" width="3.1" height="20.9" fill="#dc3b4e"/><rect x="752.81" y="111.7" width="3.1" height="12.1" fill="#dc3b4e"/><rect x="756.11" y="101.8" width="3.1" height="22.0" fill="#17987f"/><rect x="759.41" y="101.8" width="3.1" height="12.5" fill="#dc3b4e"/><rect x="762.71" y="111.3" width="3.1" height="3.0" fill="#17987f"/><rect x="766.01" y="114.4" width="3.1" height="14.4" fill="#dc3b4e"/><rect x="769.32" y="114.5" width="3.1" height="13.9" fill="#17987f"/><rect x="772.62" y="111.3" width="3.1" height="4.7" fill="#17987f"/><rect x="775.92" y="111.3" width="3.1" height="4.3" fill="#dc3b4e"/><rect x="779.22" y="109.0" width="3.1" height="6.6" fill="#17987f"/><rect x="782.52" y="111.5" width="3.1" height="18.3" fill="#dc3b4e"/><rect x="785.83" y="130.0" width="3.1" height="6.7" fill="#dc3b4e"/></g>
</g>
<path d="M-1.0 428.4 L0.0 420.6 L8.9 416.1 L13.3 417.2 L17.8 416.1 L26.7 411.2 L34.4 408.8 L44.4 415.0 L55.6 420.6 L66.7 424.6 L73.3 428.3 L84.4 435.7 L96.7 441.0 L102.2 438.3 L108.9 429.4 L111.1 428.3 L120.0 420.1 L124.4 418.8 L133.3 416.8 L144.4 420.1 L155.6 422.8 L164.4 419.4 L177.8 419.0 L184.4 417.2 L188.9 418.3 L200.0 425.5 L208.9 428.3 L220.0 432.3 L228.9 432.3 L236.7 430.8 L242.2 431.0 L252.2 434.3 L260.0 432.8 L266.7 428.3 L272.2 425.0 L282.2 424.1 L288.9 422.3 L297.8 417.9 L308.9 415.2 L314.4 416.1 L321.1 419.9 L328.9 417.9 L338.9 413.9 L346.7 407.2 L353.3 399.4 L357.8 395.4 L362.2 394.6 L367.8 391.7 L372.2 394.3 L377.8 397.7 L384.4 397.2 L393.3 396.8 L400.0 397.9 L406.7 401.7 L413.3 405.0 L422.2 411.7 L428.9 417.9 L435.6 421.0 L442.2 422.1 L446.7 421.0 L455.6 428.3 L462.2 435.0 L468.9 440.6 L475.6 443.4 L481.1 444.1 L487.8 441.7 L497.8 441.0 L502.2 438.3 L506.7 434.3 L515.6 432.3 L521.1 428.3 L526.7 424.6 L535.6 421.2 L542.2 422.3 L551.1 419.4 L562.2 420.6 L573.3 423.9 L584.4 426.6 L588.9 425.4 L595.6 427.7 L600.0 430.6 L606.7 434.3 L613.3 437.2 L622.2 437.9 L627.8 436.1 L635.6 437.7 L642.2 437.9 L647.8 439.0 L652.2 438.3 L661.1 439.7 L668.9 436.1 L677.8 432.1 L687.8 433.4 L693.3 432.1 L701.1 428.3 L711.1 423.2 L721.1 419.4 L733.3 418.3 L740.0 413.9 L744.0 411.1 L747.0 410.1 L750.5 410.4 L755.6 412.1 L762.2 413.4 L771.1 416.6 L780.0 418.3 L786.2 421.2 L786.2 428.4 Z" fill="#2a62ff"/>
<line x1="0" y1="428.4" x2="786.2" y2="428.4" stroke="#2a62ff" stroke-width="1"/>
<g>
<text x="4.8" y="15.1" font-size="10.8" fill="#2b2f3a" stroke="#2b2f3a" stroke-width="0.25" textLength="172.7" lengthAdjust="spacingAndGlyphs">U.S. Dollar / Canadian Dollar, 1D, FXCM</text>
<text x="185.5" y="15.1" font-size="10.8" fill="#2b2f3a" stroke="#2b2f3a" stroke-width="0.25" textLength="4.8" lengthAdjust="spacingAndGlyphs">O</text>
<text x="191.2" y="15.1" font-size="10.8" fill="#cf3f55" stroke="#cf3f55" stroke-width="0.25" textLength="33.0" lengthAdjust="spacingAndGlyphs">1.36602</text>
<text x="232.0" y="15.1" font-size="10.8" fill="#2b2f3a" stroke="#2b2f3a" stroke-width="0.25" textLength="5.0" lengthAdjust="spacingAndGlyphs">H</text>
<text x="238.0" y="15.1" font-size="10.8" fill="#cf3f55" stroke="#cf3f55" stroke-width="0.25" textLength="33.3" lengthAdjust="spacingAndGlyphs">1.36649</text>
<text x="278.0" y="15.1" font-size="10.8" fill="#2b2f3a" stroke="#2b2f3a" stroke-width="0.25" textLength="3.6" lengthAdjust="spacingAndGlyphs">L</text>
<text x="282.5" y="15.1" font-size="10.8" fill="#cf3f55" stroke="#cf3f55" stroke-width="0.25" textLength="32.5" lengthAdjust="spacingAndGlyphs">1.36313</text>
<text x="322.5" y="15.1" font-size="10.8" fill="#2b2f3a" stroke="#2b2f3a" stroke-width="0.25" textLength="5.0" lengthAdjust="spacingAndGlyphs">C</text>
<text x="328.3" y="15.1" font-size="10.8" fill="#cf3f55" stroke="#cf3f55" stroke-width="0.25" textLength="33.0" lengthAdjust="spacingAndGlyphs">1.36350</text>
<text x="368.0" y="15.1" font-size="10.8" fill="#cf3f55" stroke="#cf3f55" stroke-width="0.25" textLength="75.8" lengthAdjust="spacingAndGlyphs">−0.00252 (−0.18%)</text>
<text x="4.8" y="28.6" font-size="10.8" fill="#2b2f3a" stroke="#2b2f3a" stroke-width="0.25" textLength="18.7" lengthAdjust="spacingAndGlyphs">EMA</text>
<text x="30.5" y="28.6" font-size="10.8" fill="#3f6bc4" stroke="#3f6bc4" stroke-width="0.25" textLength="32.5" lengthAdjust="spacingAndGlyphs">1.36919</text>
<text x="4.8" y="42.1" font-size="10.8" fill="#2b2f3a" stroke="#2b2f3a" stroke-width="0.25" textLength="13.7" lengthAdjust="spacingAndGlyphs">MA</text>
<text x="25.0" y="42.1" font-size="10.8" fill="#cf3f55" stroke="#cf3f55" stroke-width="0.25" textLength="33.0" lengthAdjust="spacingAndGlyphs">1.37016</text>
<text x="4.9" y="402.3" font-size="10.8" fill="#2b2f3a" stroke="#2b2f3a" stroke-width="0.25" textLength="24.7" lengthAdjust="spacingAndGlyphs">MACD</text>
<text x="36.7" y="402.3" font-size="10.8" fill="#3f6bc4" stroke="#3f6bc4" stroke-width="0.25" textLength="32.9" lengthAdjust="spacingAndGlyphs">0.00380</text>
<text x="866.3" y="13.1" font-size="10.8" fill="#2b2f3a" stroke="#2b2f3a" stroke-width="0.25" textLength="17.0" lengthAdjust="spacingAndGlyphs">CAD</text>
<text x="794.3" y="138.7" font-size="10.8" fill="#5b4b9e" stroke="#5b4b9e" stroke-width="0.25" textLength="28.3" lengthAdjust="spacingAndGlyphs">38.20%</text>
<text x="866.6" y="43.5" font-size="10.8" fill="#2b2f3a" stroke="#2b2f3a" stroke-width="0.25" textLength="31.9" lengthAdjust="spacingAndGlyphs">1.40000</text>
<text x="866.6" y="70.0" font-size="10.8" fill="#2b2f3a" stroke="#2b2f3a" stroke-width="0.25" textLength="31.9" lengthAdjust="spacingAndGlyphs">1.39000</text>
<text x="866.6" y="96.5" font-size="10.8" fill="#2b2f3a" stroke="#2b2f3a" stroke-width="0.25" textLength="31.9" lengthAdjust="spacingAndGlyphs">1.38000</text>
<text x="866.6" y="149.6" font-size="10.8" fill="#2b2f3a" stroke="#2b2f3a" stroke-width="0.25" textLength="31.9" lengthAdjust="spacingAndGlyphs">1.36000</text>
<text x="866.6" y="176.1" font-size="10.8" fill="#2b2f3a" stroke="#2b2f3a" stroke-width="0.25" textLength="31.9" lengthAdjust="spacingAndGlyphs">1.35000</text>
<text x="866.6" y="202.7" font-size="10.8" fill="#2b2f3a" stroke="#2b2f3a" stroke-width="0.25" textLength="31.9" lengthAdjust="spacingAndGlyphs">1.34000</text>
<text x="866.6" y="229.2" font-size="10.8" fill="#2b2f3a" stroke="#2b2f3a" stroke-width="0.25" textLength="31.9" lengthAdjust="spacingAndGlyphs">1.33000</text>
<text x="866.6" y="255.8" font-size="10.8" fill="#2b2f3a" stroke="#2b2f3a" stroke-width="0.25" textLength="31.9" lengthAdjust="spacingAndGlyphs">1.32000</text>
<text x="866.6" y="282.3" font-size="10.8" fill="#2b2f3a" stroke="#2b2f3a" stroke-width="0.25" textLength="31.9" lengthAdjust="spacingAndGlyphs">1.31000</text>
<text x="866.6" y="308.8" font-size="10.8" fill="#2b2f3a" stroke="#2b2f3a" stroke-width="0.25" textLength="31.9" lengthAdjust="spacingAndGlyphs">1.30000</text>
<text x="866.6" y="335.4" font-size="10.8" fill="#2b2f3a" stroke="#2b2f3a" stroke-width="0.25" textLength="31.9" lengthAdjust="spacingAndGlyphs">1.29000</text>
<text x="866.6" y="361.9" font-size="10.8" fill="#2b2f3a" stroke="#2b2f3a" stroke-width="0.25" textLength="31.9" lengthAdjust="spacingAndGlyphs">1.28000</text>
<text x="866.6" y="392.8" font-size="10.8" fill="#2b2f3a" stroke="#2b2f3a" stroke-width="0.25" textLength="31.9" lengthAdjust="spacingAndGlyphs">0.02000</text>
<text x="866.6" y="433.0" font-size="10.8" fill="#2b2f3a" stroke="#2b2f3a" stroke-width="0.25" textLength="31.9" lengthAdjust="spacingAndGlyphs">0.00000</text>
<rect x="857.3" y="69.7" width="42.7" height="13.2" fill="#19b4c9"/>
<text x="866.6" y="79.9" font-size="10.8" fill="#0f2a3a" stroke="#0f2a3a" stroke-width="0.25" textLength="31.9" lengthAdjust="spacingAndGlyphs">1.38622</text>
<rect x="857.3" y="87.9" width="42.7" height="13.7" fill="#f03547"/>
<text x="866.6" y="98.3" font-size="10.8" fill="#ffffff" stroke="#ffffff" stroke-width="0.25" textLength="31.9" lengthAdjust="spacingAndGlyphs">1.37016</text>
<rect x="857.3" y="101.9" width="42.7" height="14.3" fill="#2a62ff"/>
<text x="866.6" y="112.7" font-size="10.8" fill="#ffffff" stroke="#ffffff" stroke-width="0.25" textLength="31.9" lengthAdjust="spacingAndGlyphs">1.36919</text>
<rect x="857.3" y="116.1" width="42.7" height="13.8" fill="#19b4c9"/>
<text x="866.6" y="126.6" font-size="10.8" fill="#0f2a3a" stroke="#0f2a3a" stroke-width="0.25" textLength="31.9" lengthAdjust="spacingAndGlyphs">1.36648</text>
<rect x="857.3" y="130.2" width="42.7" height="12.8" fill="#f03547"/>
<text x="866.6" y="140.2" font-size="10.8" fill="#ffffff" stroke="#ffffff" stroke-width="0.25" textLength="31.9" lengthAdjust="spacingAndGlyphs">1.36350</text>
<rect x="857.3" y="238.8" width="42.7" height="13.4" fill="#2a62ff"/>
<text x="866.6" y="249.1" font-size="10.8" fill="#ffffff" stroke="#ffffff" stroke-width="0.25" textLength="31.9" lengthAdjust="spacingAndGlyphs">1.32256</text>
<rect x="857.3" y="415.3" width="42.7" height="12.9" fill="#2a62ff"/>
<text x="866.6" y="425.4" font-size="10.8" fill="#ffffff" stroke="#ffffff" stroke-width="0.25" textLength="31.9" lengthAdjust="spacingAndGlyphs">0.00380</text>
<text x="72.2" y="465.6" font-size="10.8" fill="#2b2f3a" stroke="#2b2f3a" stroke-width="0.25" textLength="16.0" lengthAdjust="spacingAndGlyphs">Jun</text>
<text x="147.1" y="465.6" font-size="10.8" fill="#2b2f3a" stroke="#2b2f3a" stroke-width="0.25" textLength="12.5" lengthAdjust="spacingAndGlyphs">Jul</text>
<text x="214.4" y="465.6" font-size="10.8" fill="#2b2f3a" stroke="#2b2f3a" stroke-width="0.25" textLength="16.0" lengthAdjust="spacingAndGlyphs">Aug</text>
<text x="289.9" y="465.6" font-size="10.8" fill="#2b2f3a" stroke="#2b2f3a" stroke-width="0.25" textLength="16.2" lengthAdjust="spacingAndGlyphs">Sep</text>
<text x="362.7" y="465.6" font-size="10.8" fill="#2b2f3a" stroke="#2b2f3a" stroke-width="0.25" textLength="16.2" lengthAdjust="spacingAndGlyphs">Oct</text>
<text x="432.2" y="465.6" font-size="10.8" fill="#2b2f3a" stroke="#2b2f3a" stroke-width="0.25" textLength="17.1" lengthAdjust="spacingAndGlyphs">Nov</text>
<text x="504.5" y="465.6" font-size="10.8" fill="#2b2f3a" stroke="#2b2f3a" stroke-width="0.25" textLength="16.3" lengthAdjust="spacingAndGlyphs">Dec</text>
<text x="649.9" y="465.6" font-size="10.8" fill="#2b2f3a" stroke="#2b2f3a" stroke-width="0.25" textLength="16.2" lengthAdjust="spacingAndGlyphs">Feb</text>
<text x="715.5" y="465.6" font-size="10.8" fill="#2b2f3a" stroke="#2b2f3a" stroke-width="0.25" textLength="17.1" lengthAdjust="spacingAndGlyphs">Mar</text>
<text x="792.8" y="465.6" font-size="10.8" fill="#2b2f3a" stroke="#2b2f3a" stroke-width="0.25" textLength="15.2" lengthAdjust="spacingAndGlyphs">Apr</text>
<text x="574.9" y="465.6" font-size="10.8" fill="#2b2f3a" stroke="#2b2f3a" stroke-width="0.25" textLength="21.8" lengthAdjust="spacingAndGlyphs" font-weight="bold">2023</text>
<text x="-2.8" y="465.6" font-size="10.8" fill="#2b2f3a" stroke="#2b2f3a" stroke-width="0.25" textLength="19.0" lengthAdjust="spacingAndGlyphs">May</text>
</g>
</svg>
</body></html>
